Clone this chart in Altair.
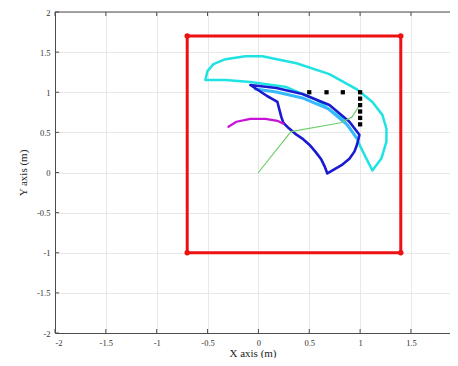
import altair as alt
import pandas as pd

# ---- data ----
rect_x = [-0.7, 1.4, 1.4, -0.7, -0.7]
rect_y = [-1.0, -1.0, 1.7, 1.7, -1.0]

cyan_x = [-0.521, -0.501, -0.442, -0.324, -0.128, 0.039, 0.374, 0.698, 0.964, 1.121, 1.219, 1.259,
          1.259, 1.209, 1.121, 1.062, 1.013, 0.964, 0.826, 0.570, 0.275, -0.079, -0.324, -0.521]
cyan_y = [1.152, 1.263, 1.350, 1.412, 1.449, 1.449, 1.362, 1.226, 1.040, 0.879, 0.718, 0.545,
          0.384, 0.173, 0.025, 0.173, 0.297, 0.433, 0.669, 0.904, 1.065, 1.127, 1.152, 1.152]

blue_x = [-0.079, 0.177, 0.433, 0.698, 0.895, 0.993, 0.985, 0.965, 0.944, 0.895, 0.826, 0.678,
          0.650, 0.619, 0.560, 0.501, 0.440, 0.374, 0.300, 0.246, 0.226, 0.205, 0.187, 0.140, 0.089, -0.079]
blue_y = [1.090, 1.053, 0.978, 0.842, 0.632, 0.471, 0.420, 0.330, 0.260, 0.170, 0.099, -0.012,
          0.080, 0.161, 0.260, 0.347, 0.415, 0.471, 0.550, 0.619, 0.690, 0.790, 0.879, 0.915, 0.950, 1.090]

band_x = [-0.03, 0.177, 0.433, 0.688, 0.875, 0.964]
band_y = [1.04, 1.003, 0.929, 0.793, 0.594, 0.433]

mag_x = [-0.295, -0.216, -0.079, 0.069, 0.187, 0.246]
mag_y = [0.570, 0.632, 0.669, 0.669, 0.644, 0.607]

green_x = [0.0, 0.32, 0.81, 0.92, 1.0]
green_y = [0.0, 0.51, 0.62, 0.69, 0.85]

sq_x = [0.5, 0.67, 0.83, 1.0, 1.0, 1.0, 1.0, 1.0, 1.0]
sq_y = [1.0, 1.0, 1.0, 1.0, 0.92, 0.84, 0.76, 0.68, 0.6]

x_ticks = [-2, -1.5, -1, -0.5, 0, 0.5, 1, 1.5]
y_ticks = [-2, -1.5, -1, -0.5, 0, 0.5, 1, 1.5, 2]

X_MIN, X_MAX, Y_MIN, Y_MAX = -2, 1.884, -2, 2
TX, TY = 0.04, 0.05  # inward tick lengths in data units


def frame(xs, ys):
    return pd.DataFrame({"x": xs, "y": ys, "o": list(range(len(xs)))})


FONT = "Liberation Serif"
PW, PH = 395, 321
xs = alt.Scale(domain=[X_MIN, X_MAX], nice=False, zero=False)
ys = alt.Scale(domain=[Y_MIN, Y_MAX], nice=False, zero=False)

xax = alt.Axis(values=x_ticks, title="X axis (m)", grid=True, ticks=False,
               labelPadding=5, titlePadding=1, titleFontSize=11, labelExpr="datum.value")
yax = alt.Axis(values=y_ticks, title="Y axis (m)", grid=True, ticks=False,
               labelPadding=5, titlePadding=8, titleFontSize=11, labelExpr="datum.value")


def enc(ch):
    return ch.encode(
        x=alt.X("x:Q", scale=xs, axis=xax),
        y=alt.Y("y:Q", scale=ys, axis=yax),
    )


def line(df, color, width):
    return alt.Chart(df).mark_line(color=color, strokeWidth=width, strokeJoin="round",
                                   strokeCap="round").encode(
        x=alt.X("x:Q", scale=xs, axis=xax),
        y=alt.Y("y:Q", scale=ys, axis=yax),
        order="o:Q",
    )


cyan = line(frame(cyan_x, cyan_y), "#1fe3e3", 2.5)
band = line(frame(band_x, band_y), "#38b8ff", 3)
blue = line(frame(blue_x, blue_y), "#1a1ad0", 2.6)
mag = line(frame(mag_x, mag_y), "#c812d8", 2.2)
green = line(frame(green_x, green_y), "#6ccf6c", 1.2)
red = line(frame(rect_x, rect_y), "#ee1111", 3)

squares = enc(alt.Chart(frame(sq_x, sq_y)).mark_square(color="black", size=18, opacity=1))
corners = enc(alt.Chart(frame(rect_x[:4], rect_y[:4])).mark_circle(color="#ee1111", size=30, opacity=1))

# inward ticks (MATLAB style) on left, bottom and top edges
tick_rows = []
for v in y_ticks:
    tick_rows.append({"x": X_MIN, "x2": X_MIN + TX, "y": v, "y2": v})
for v in x_ticks:
    tick_rows.append({"x": v, "x2": v, "y": Y_MIN, "y2": Y_MIN + TY})
    tick_rows.append({"x": v, "x2": v, "y": Y_MAX, "y2": Y_MAX - TY})
ticks = alt.Chart(pd.DataFrame(tick_rows)).mark_rule(color="#4d4d4d", strokeWidth=1).encode(
    x=alt.X("x:Q", scale=xs, axis=xax), x2="x2:Q",
    y=alt.Y("y:Q", scale=ys, axis=yax), y2="y2:Q")

top_border = alt.Chart(pd.DataFrame({"a": [0]})).mark_rule(color="#4d4d4d", strokeWidth=1).encode(
    x=alt.value(0), x2=alt.value(PW), y=alt.value(0))

chart = alt.layer(cyan, band, blue, mag, green, squares, red, corners, ticks, top_border).properties(
    width=PW, height=PH,
    autosize=alt.AutoSizeParams(type="none"),
    padding={"left": 47, "top": 4, "right": 0, "bottom": 25},
).configure_view(stroke=None).configure_axis(
    labelFont=FONT, titleFont=FONT, labelFontSize=8.5,
    titleFontWeight="normal", labelColor="#333333", titleColor="#222222",
    gridColor="#e8e8e8", gridWidth=1, domainColor="#4d4d4d", domainWidth=1,
)

chart.save("out.html", embed_options={"renderer": "svg", "actions": False})
